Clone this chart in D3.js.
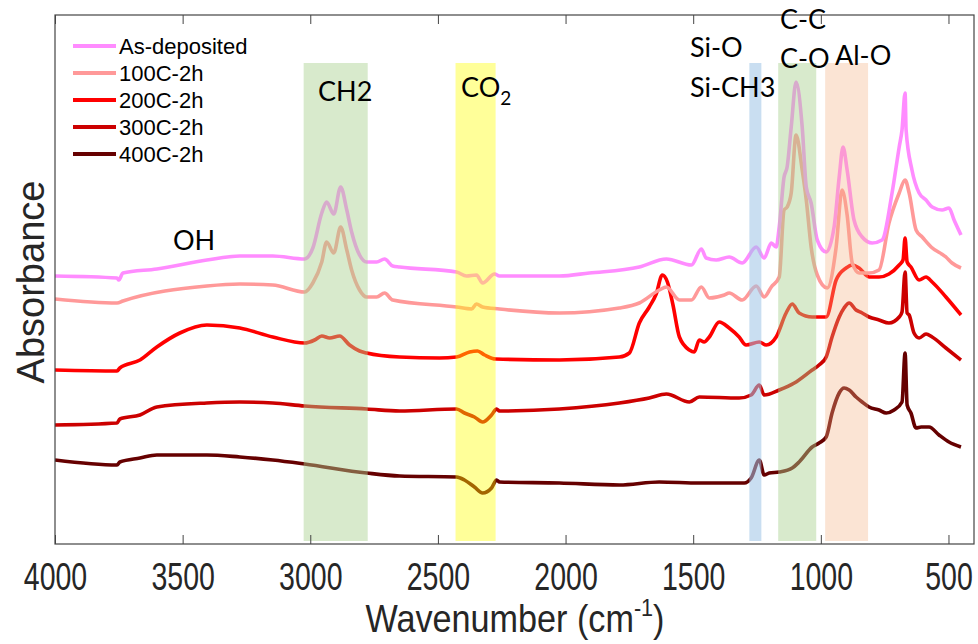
<!DOCTYPE html>
<html>
<head>
<meta charset="utf-8">
<script src="https://cdn.jsdelivr.net/npm/d3@7"></script>
<style>
  body { margin: 0; background: #fff; }
  svg { display: block; }
</style>
</head>
<body>
<div id="graph"></div>
<script>
// FTIR spectra, offset absorbance (a.u.) vs wavenumber

var seriesNames = ["As-deposited", "100C-2h", "200C-2h", "300C-2h", "400C-2h"];
var seriesColors = ["#ff8cff", "#ff9999", "#ff0000", "#cc0000", "#660000"];

// [wavenumber, absorbance]
var asDeposited = [[4000,2.68],[3757,2.66],[3750,2.64],[3734,2.71],[3601,2.75],[3405,2.84],[3276,2.88],[3147,2.88],
  [3022,2.85],[2990,2.96],[2955,3.31],[2936,3.42],[2908,3.30],[2881,3.57],[2857,3.34],[2838,3.12],[2807,2.89],
  [2779,2.82],[2740,2.82],[2709,2.85],[2677,2.78],[2650,2.77],[2427,2.72],[2388,2.68],[2349,2.69],[2325,2.61],
  [2278,2.70],[2259,2.68],[2024,2.68],[1907,2.71],[1711,2.77],[1605,2.85],[1507,2.79],[1468,2.95],[1449,2.86],
  [1410,2.84],[1359,2.87],[1308,2.81],[1253,2.97],[1222,2.86],[1194,3.01],[1175,2.97],[1163,3.17],[1144,3.67],
  [1132,3.77],[1116,4.17],[1097,4.62],[1073,4.17],[1057,3.57],[1038,3.41],[1014,3.04],[979,2.92],[948,3.17],
  [928,3.67],[913,3.97],[897,3.74],[870,3.24],[838,3.07],[799,3.01],[760,3.04],[721,3.51],[693,3.97],[682,4.14],
  [670,4.51],[666,4.14],[643,3.74],[615,3.51],[588,3.44],[564,3.37],[525,3.34],[498,3.36],[478,3.24],[451,3.09]];

var c100 = [[4000,2.45],[3757,2.41],[3734,2.43],[3405,2.58],[3276,2.60],[3147,2.59],[3022,2.52],[2990,2.61],
  [2955,2.82],[2936,3.02],[2908,2.91],[2881,3.17],[2857,2.94],[2838,2.74],[2807,2.54],[2779,2.47],[2740,2.47],
  [2709,2.51],[2677,2.44],[2427,2.37],[2368,2.35],[2349,2.40],[2325,2.37],[2259,2.35],[2024,2.31],[1789,2.36],
  [1711,2.41],[1633,2.54],[1605,2.57],[1554,2.44],[1507,2.44],[1468,2.57],[1437,2.46],[1378,2.49],[1359,2.51],
  [1308,2.44],[1253,2.58],[1222,2.47],[1194,2.57],[1163,2.67],[1144,3.34],[1132,3.37],[1116,3.51],[1097,4.09],
  [1073,3.74],[1057,3.44],[1038,2.97],[1014,2.69],[975,2.56],[940,2.97],[917,3.54],[897,3.29],[877,2.81],
  [850,2.71],[811,2.71],[772,2.74],[733,3.21],[693,3.51],[670,3.64],[654,3.51],[627,3.14],[603,3.07],
  [568,2.97],[510,2.87],[486,2.81],[451,2.76]];

var c200 = [[4000,1.74],[3757,1.73],[3746,1.76],[3667,1.84],[3601,1.97],[3511,2.11],[3405,2.19],[3276,2.16],
  [3147,2.07],[3022,2.01],[2983,2.04],[2955,2.08],[2924,2.06],[2885,2.08],[2846,1.99],[2807,1.93],[2779,1.91],
  [2650,1.87],[2494,1.86],[2427,1.87],[2376,1.92],[2345,1.93],[2317,1.89],[2274,1.85],[2024,1.84],[1789,1.87],
  [1750,1.91],[1711,2.21],[1672,2.37],[1645,2.50],[1621,2.69],[1601,2.62],[1580,2.40],[1554,2.07],[1515,1.94],
  [1496,1.92],[1476,2.04],[1457,2.02],[1437,2.07],[1398,2.22],[1359,2.16],[1320,2.07],[1293,1.99],[1241,2.02],
  [1214,1.99],[1175,2.07],[1136,2.31],[1112,2.40],[1085,2.31],[1034,2.27],[979,2.27],[940,2.64],[901,2.76],
  [877,2.79],[850,2.76],[811,2.67],[772,2.67],[733,2.70],[693,2.79],[678,2.84],[670,3.06],[662,2.82],
  [647,2.77],[615,2.64],[588,2.67],[564,2.62],[510,2.47],[451,2.29]];

var c300 = [[4000,1.19],[3757,1.21],[3746,1.25],[3667,1.29],[3601,1.37],[3405,1.41],[3276,1.42],[3147,1.41],
  [3022,1.38],[2779,1.35],[2650,1.33],[2427,1.35],[2396,1.31],[2357,1.27],[2325,1.22],[2290,1.29],[2270,1.35],
  [2259,1.33],[2024,1.35],[1789,1.41],[1672,1.46],[1605,1.50],[1515,1.42],[1476,1.47],[1320,1.46],[1273,1.49],
  [1241,1.59],[1222,1.49],[1163,1.54],[1104,1.61],[1034,1.74],[1007,1.79],[979,1.87],[956,2.07],[928,2.27],
  [909,2.36],[889,2.41],[862,2.34],[838,2.31],[811,2.27],[772,2.24],[733,2.21],[693,2.27],[682,2.32],
  [670,2.72],[662,2.31],[654,2.29],[635,2.11],[615,2.06],[588,2.10],[564,2.07],[510,1.96],[451,1.84]];

var c400 = [[4000,0.84],[3757,0.79],[3746,0.82],[3667,0.86],[3601,0.89],[3405,0.89],[3276,0.87],[3147,0.84],
  [3022,0.80],[2779,0.71],[2650,0.68],[2427,0.67],[2396,0.64],[2357,0.57],[2325,0.51],[2290,0.56],[2270,0.64],
  [2259,0.62],[2024,0.61],[1789,0.59],[1633,0.62],[1476,0.61],[1300,0.61],[1273,0.66],[1241,0.84],[1222,0.69],
  [1202,0.71],[1163,0.72],[1112,0.76],[1085,0.82],[1034,0.97],[1007,1.01],[979,1.07],[956,1.31],[928,1.51],
  [909,1.56],[889,1.54],[862,1.47],[838,1.42],[811,1.37],[772,1.34],[744,1.31],[713,1.34],[682,1.42],
  [670,1.91],[662,1.39],[647,1.31],[627,1.16],[607,1.17],[576,1.17],[537,1.09],[498,1.02],[451,0.97]];

var allSeries = [asDeposited, c100, c200, c300, c400];

var xTicks = [4000, 3500, 3000, 2500, 2000, 1500, 1000, 500];

// highlighted bands: [from, to] in cm-1
var bandRanges = [[3026, 2775], [2431, 2274], [1280, 1233], [1167, 1018], [983, 815]];
var bandColors = ["#a9d18e", "#ffff00", "#9dc3e6", "#a9d18e", "#f4b183"];
var bandAlpha = [0.45, 0.4, 0.55, 0.45, 0.35];

// svg
var W = 978, H = 644;
var m = { left: 55, right: 4, top: 15, bottom: 100 };
var svg = d3.select("#graph").append("svg").attr("width", W).attr("height", H);

var x = d3.scaleLinear().domain([4000, 400]).range([m.left, W - m.right]);
var y = d3.scaleLinear().domain([0, 5.29]).range([H - m.bottom, m.top]);

svg.append("clipPath").attr("id", "plotclip")
   .append("rect").attr("x", m.left).attr("y", m.top)
   .attr("width", W - m.left - m.right).attr("height", H - m.top - m.bottom);

var line = d3.line().x(d => x(d[0])).y(d => y(d[1])).curve(d3.curveMonotoneX);

// curves
var plot = svg.append("g").attr("clip-path", "url(#plotclip)");
plot.selectAll("path.spec")
    .data(allSeries.slice().reverse())
    .enter().append("path")
    .attr("class", "spec")
    .attr("d", line)
    .attr("fill", "none")
    .attr("stroke", (d, i) => seriesColors[4 - i])
    .attr("stroke-width", 3.6)
    .attr("stroke-linejoin", "round");

// bands over the curves
svg.selectAll("rect.band")
   .data(bandRanges)
   .enter().append("rect")
   .attr("class", "band")
   .attr("x", d => x(d[0]))
   .attr("width", d => x(d[1]) - x(d[0]))
   .attr("y", 63)
   .attr("height", 541 - 63)
   .attr("fill", (d, i) => bandColors[i])
   .attr("fill-opacity", (d, i) => bandAlpha[i]);

// frame + ticks (inward, top and bottom)
var xAxis = d3.axisBottom(x).tickValues(xTicks).tickFormat(d3.format("d"))
  .tickSizeInner(-9).tickSizeOuter(0).tickPadding(19);
var gx = svg.append("g").attr("transform", "translate(0," + (H - m.bottom) + ")").call(xAxis);
gx.select(".domain").remove();
gx.selectAll("line").attr("stroke", "#444");
gx.selectAll("text")
  .attr("font-family", "'Liberation Sans', Arial, sans-serif")
  .attr("font-size", 38).attr("fill", "#262626")
  .attr("transform", "scale(0.75,1)");

var gTop = svg.append("g").attr("transform", "translate(0," + m.top + ")")
  .call(d3.axisTop(x).tickValues(xTicks).tickSizeInner(-9).tickSizeOuter(0).tickFormat(""));
gTop.select(".domain").remove();
gTop.selectAll("line").attr("stroke", "#444");

svg.append("rect")
   .attr("x", m.left).attr("y", m.top)
   .attr("width", W - m.left - m.right).attr("height", H - m.top - m.bottom)
   .attr("fill", "none").attr("stroke", "#444").attr("stroke-width", 1.2);

// axis labels
var xl = svg.append("text")
   .attr("transform", "translate(515,632) scale(0.9,1)")
   .attr("text-anchor", "middle")
   .attr("font-family", "'Liberation Sans', Arial, sans-serif")
   .attr("font-size", 38).attr("fill", "#262626");
xl.append("tspan").text("Wavenumber (cm");
xl.append("tspan").attr("dy", -16).attr("font-size", 24).text("-1");
xl.append("tspan").attr("dy", 16).text(")");

svg.append("text")
   .attr("transform", "translate(44,282) rotate(-90)")
   .attr("text-anchor", "middle")
   .attr("font-family", "'Liberation Sans', Arial, sans-serif")
   .attr("font-size", 38).attr("fill", "#262626")
   .text("Absorbance");

// legend
var leg = svg.append("g");
seriesNames.forEach(function (name, i) {
  var ly = 46 + i * 27;
  leg.append("line").attr("x1", 73).attr("x2", 116).attr("y1", ly).attr("y2", ly)
     .attr("stroke", seriesColors[i]).attr("stroke-width", 4);
  leg.append("text").attr("x", 119).attr("y", ly + 8)
     .attr("font-family", "'Liberation Sans', Arial, sans-serif")
     .attr("font-size", 22).attr("fill", "#000").text(name);
});

// peak labels
var lab = svg.append("g").attr("font-family", "Lato, 'Noto Sans', sans-serif")
  .attr("font-size", 27).attr("fill", "#000");
lab.append("text").attr("x", 318).attr("y", 101).text("CH2");
var co2 = lab.append("text").attr("x", 461).attr("y", 97);
co2.append("tspan").text("CO");
co2.append("tspan").attr("dy", 8).attr("font-size", 19).text("2");
lab.append("text").attr("x", 173).attr("y", 250).text("OH");
lab.append("text").attr("x", 690).attr("y", 57).text("Si-O");
lab.append("text").attr("x", 690).attr("y", 97).text("Si-CH3");
lab.append("text").attr("x", 780).attr("y", 29).text("C-C");
lab.append("text").attr("x", 780).attr("y", 68).text("C-O");
lab.append("text").attr("x", 835).attr("y", 65).text("Al-O");
</script>
</body>
</html>
